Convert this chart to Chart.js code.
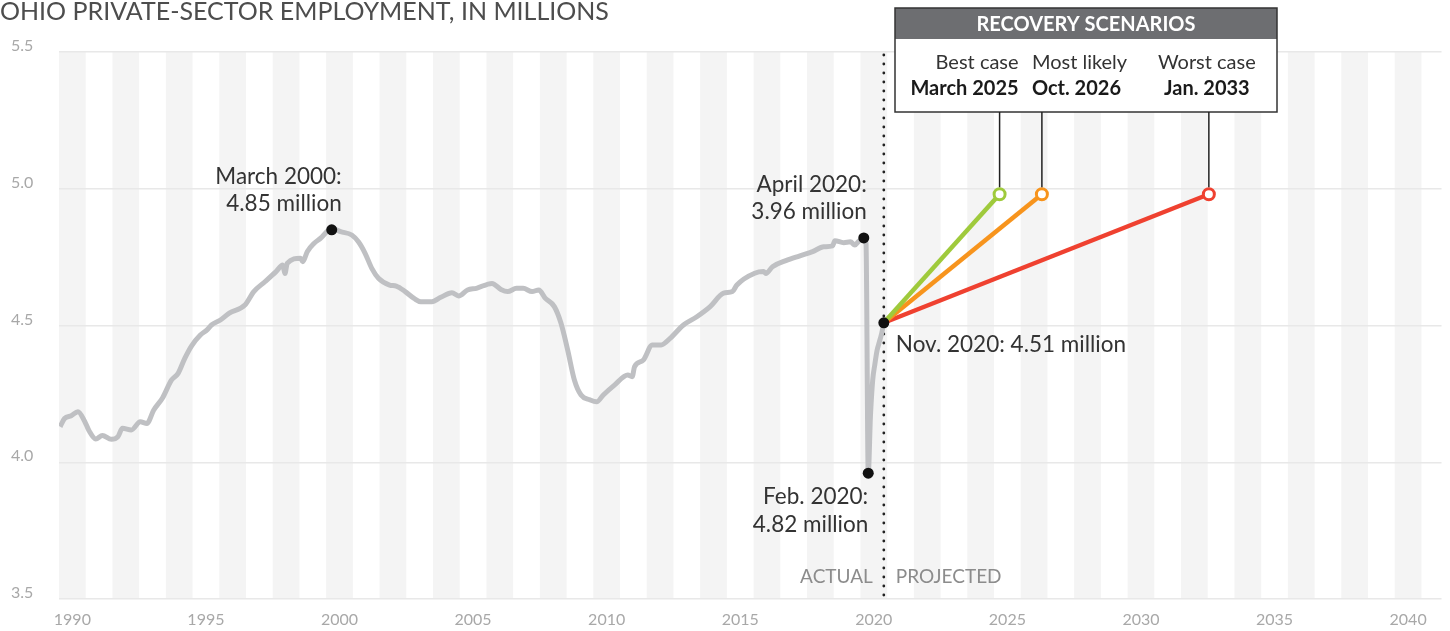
<!DOCTYPE html>
<html>
<head>
<meta charset="utf-8">
<script src="https://cdn.jsdelivr.net/npm/chart.js@4.4.1/dist/chart.umd.min.js"></script>
<style>
    html, body { margin: 0; padding: 0; background: #fff; }
    #wrap { width: 1450px; height: 631px; position: relative; }
</style>
</head>
<body>
<div id="wrap"><canvas id="jobs-chart"></canvas></div>
<script>
// Ohio private-sector employment, millions
const months = [
    '1990-01', '1990-03', '1990-06', '1990-09', '1990-12',
    '1991-02', '1991-05', '1991-08', '1991-12',
    '1992-03', '1992-05', '1992-09',
    '1993-01', '1993-04', '1993-07', '1993-11',
    '1994-03', '1994-06', '1994-09', '1994-12',
    '1995-04', '1995-07', '1995-09',
    '1996-01', '1996-05', '1996-12',
    '1997-04', '1997-09',
    '1998-02', '1998-05', '1998-06', '1998-07',
    '1999-01', '1999-02', '1999-04', '1999-07', '1999-10',
    '2000-03', '2000-07', '2000-12',
    '2001-03', '2001-06', '2001-09', '2001-12',
    '2002-05', '2002-08', '2002-12',
    '2003-04', '2003-07', '2003-12',
    '2004-04', '2004-09', '2004-12',
    '2005-04', '2005-08',
    '2006-03', '2006-07', '2006-10',
    '2007-02', '2007-05', '2007-09', '2007-12',
    '2008-03', '2008-07', '2008-10',
    '2009-01', '2009-04', '2009-07', '2009-11',
    '2010-02', '2010-05', '2010-10',
    '2011-04', '2011-06', '2011-07', '2011-11',
    '2012-03', '2012-07', '2012-11',
    '2013-05', '2013-11',
    '2014-05', '2014-11',
    '2015-03', '2015-05',
    '2016-01', '2016-05', '2016-06', '2016-09',
    '2017-03', '2017-09',
    '2018-03', '2018-08', '2018-12',
    '2019-01', '2019-05', '2019-08', '2019-10', '2019-12',
    '2020-01', '2020-02', '2020-03', '2020-04', '2020-05', '2020-06',
    '2020-07', '2020-08', '2020-09', '2020-10', '2020-11'
];
const jobs = [
    4.13, 4.16, 4.17, 4.185, 4.15,
    4.115, 4.085, 4.098, 4.084,
    4.094, 4.124, 4.118,
    4.148, 4.142, 4.19, 4.235,
    4.30, 4.325, 4.38, 4.425,
    4.465, 4.484, 4.502,
    4.52, 4.545, 4.575,
    4.624, 4.66,
    4.697, 4.721, 4.69, 4.727,
    4.746, 4.733, 4.77, 4.80, 4.819,
    4.855, 4.843, 4.831,
    4.806, 4.764, 4.709, 4.673,
    4.648, 4.644, 4.624,
    4.599, 4.587, 4.587,
    4.603, 4.62, 4.608,
    4.63, 4.636,
    4.654, 4.632, 4.624,
    4.636, 4.636, 4.624, 4.63,
    4.599, 4.569, 4.508,
    4.41, 4.301, 4.246, 4.228,
    4.221, 4.246, 4.282,
    4.319, 4.313, 4.349, 4.374,
    4.429, 4.429, 4.453,
    4.502, 4.532,
    4.569, 4.618,
    4.624, 4.648,
    4.691, 4.697, 4.69, 4.715,
    4.737, 4.754,
    4.77, 4.788, 4.791,
    4.81, 4.803, 4.806, 4.794, 4.81,
    4.812, 4.82, 4.80, 3.96, 4.17, 4.30,
    4.36, 4.41, 4.44, 4.47, 4.51
];

const calloutMonths = ['2000-03', '2020-02', '2020-04', '2020-11'];
const calloutValues = [4.85, 4.82, 3.96, 4.51];
const calloutText = [
    ['March 2000:', '4.85 million'],
    ['April 2020:', '3.96 million'],
    ['Feb. 2020:', '4.82 million'],
    ['Nov. 2020: 4.51 million']
];

const scenarioStart = '2020-11';
const scenarioStartLevel = 4.51;
const scenarioNames = ['Best case', 'Most likely', 'Worst case'];
const scenarioDates = ['March 2025', 'Oct. 2026', 'Jan. 2033'];
const scenarioMonths = ['2025-03', '2026-10', '2033-01'];
const scenarioLevels = [4.98, 4.98, 4.98];
const scenarioColors = ['#9fca3c', '#f7941d', '#ef4130'];

const yTicks = [3.5, 4.0, 4.5, 5.0, 5.5];
const xTickYears = [1990, 1995, 2000, 2005, 2010, 2015, 2020, 2025, 2030, 2035, 2040];

const FONT = 'Lato, "Open Sans", sans-serif';

// mid-month position on a decimal-year axis
function toYear(m) {
    const [y, mo] = m.split('-').map(Number);
    return y + (mo - 1) / 12 + 1 / 24;
}

const seriesPoints = months.map((m, i) => ({ x: toYear(m), y: jobs[i] }));
const calloutPoints = calloutMonths.map((m, i) => ({ x: toYear(m), y: calloutValues[i] }));

// label placement relative to each callout dot
const calloutPlacement = [
    { align: 'right', dx: 10, dy: [-53, -26] },
    { align: 'right', dx: 3, dy: [-53, -26] },
    { align: 'right', dx: 0, dy: [24, 52] },
    { align: 'left', dx: 12, dy: [22] }
];

const scenarioSets = scenarioMonths.map((m, i) => ({
    type: 'line',
    data: [
        { x: toYear(scenarioStart), y: scenarioStartLevel },
        { x: toYear(m), y: scenarioLevels[i] }
    ],
    borderColor: scenarioColors[i],
    borderWidth: 4.5,
    pointRadius: [0, 5.5],
    pointBorderWidth: 3,
    pointBackgroundColor: '#fff',
    pointBorderColor: scenarioColors[i],
    order: 2
}));

const overlay = {
    id: 'overlay',
    beforeDraw(chart) {
        const { ctx, chartArea: a, scales: { x } } = chart;
        ctx.save();
        ctx.fillStyle = '#f4f4f4';
        for (let yr = 1990; yr < x.max; yr += 2) {
            const l = x.getPixelForValue(yr);
            const r = Math.min(x.getPixelForValue(yr + 1), a.right);
            ctx.fillRect(l, a.top, r - l, a.bottom - a.top);
        }
        ctx.restore();
    },
    beforeDatasetsDraw(chart) {
        const { ctx, chartArea: a, scales: { x } } = chart;
        const px = x.getPixelForValue(toYear(scenarioStart));
        ctx.save();
        ctx.strokeStyle = '#222';
        ctx.lineWidth = 2.8;
        ctx.lineCap = 'round';
        ctx.setLineDash([0, 9]);
        ctx.beginPath();
        ctx.moveTo(px, a.top + 3);
        ctx.lineTo(px, a.bottom);
        ctx.stroke();
        ctx.setLineDash([]);

        ctx.font = '19px ' + FONT;
        ctx.fillStyle = '#8c8c8c';
        ctx.textBaseline = 'middle';
        ctx.textAlign = 'right';
        ctx.fillText('ACTUAL', px - 11, 577);
        ctx.textAlign = 'left';
        ctx.fillText('PROJECTED', px + 12, 577);
        ctx.restore();
    },
    afterDraw(chart) {
        const { ctx, scales: { x, y } } = chart;
        ctx.save();

        // title
        ctx.font = '25px ' + FONT;
        ctx.fillStyle = '#4d4d4d';
        ctx.textAlign = 'left';
        ctx.textBaseline = 'alphabetic';
        ctx.fillText('OHIO PRIVATE-SECTOR EMPLOYMENT, IN MILLIONS', 0, 20);

        // axis labels
        ctx.font = '16px ' + FONT;
        ctx.fillStyle = '#a8a8a8';
        ctx.textBaseline = 'middle';
        yTicks.forEach(v => {
            ctx.textAlign = 'left';
            ctx.fillText(v.toFixed(1), 11, y.getPixelForValue(v) - 6);
        });
        ctx.textAlign = 'center';
        xTickYears.forEach(yr => {
            ctx.fillText(String(yr), x.getPixelForValue(yr + 0.5), 620);
        });

        // callouts
        ctx.font = '22.5px ' + FONT;
        ctx.fillStyle = '#333';
        calloutPoints.forEach((p, i) => {
            const pl = calloutPlacement[i];
            const px = x.getPixelForValue(p.x);
            const py = y.getPixelForValue(p.y);
            ctx.textAlign = pl.align;
            calloutText[i].forEach((t, k) => ctx.fillText(t, px + pl.dx, py + pl.dy[k]));
        });

        // scenario box
        const bx = 895, by = 8, bw = 382, bh = 104, hh = 31;
        ctx.fillStyle = '#fff';
        ctx.fillRect(bx, by, bw, bh);
        ctx.fillStyle = '#6d6e71';
        ctx.fillRect(bx, by, bw, hh);
        ctx.strokeStyle = '#333';
        ctx.lineWidth = 1.5;
        ctx.strokeRect(bx, by, bw, bh);
        ctx.fillStyle = '#fff';
        ctx.font = 'bold 20px ' + FONT;
        ctx.textAlign = 'center';
        ctx.fillText('RECOVERY SCENARIOS', bx + bw / 2, by + hh / 2 + 1);

        const textAligns = ['right', 'left', 'center'];
        const textDx = [19, -10, -2];
        scenarioMonths.forEach((m, i) => {
            const px = x.getPixelForValue(toYear(m));
            const py = y.getPixelForValue(scenarioLevels[i]);
            ctx.strokeStyle = '#222';
            ctx.lineWidth = 1.5;
            ctx.beginPath();
            ctx.moveTo(px, by + bh);
            ctx.lineTo(px, py - 7);
            ctx.stroke();

            ctx.textAlign = textAligns[i];
            ctx.fillStyle = '#333';
            ctx.font = '20px ' + FONT;
            ctx.fillText(scenarioNames[i], px + textDx[i], 63);
            ctx.fillStyle = '#1a1a1a';
            ctx.font = 'bold 20px ' + FONT;
            ctx.fillText(scenarioDates[i], px + textDx[i], 89);
        });
        ctx.restore();
    }
};

new Chart(document.getElementById('jobs-chart'), {
    type: 'line',
    data: {
        datasets: [
            {
                type: 'scatter',
                data: calloutPoints,
                pointRadius: 5.5,
                pointBackgroundColor: '#111',
                pointBorderWidth: 0,
                showLine: false,
                order: 0
            },
            ...scenarioSets,
            {
                type: 'line',
                data: seriesPoints,
                borderColor: '#bfc0c3',
                borderWidth: 5,
                pointRadius: 0,
                cubicInterpolationMode: 'monotone',
                borderJoinStyle: 'round',
                order: 3
            }
        ]
    },
    options: {
        responsive: true,
        maintainAspectRatio: false,
        animation: false,
        events: [],
        layout: {
            padding: { top: 52, right: 6, left: 0, bottom: 0 }
        },
        scales: {
            x: {
                type: 'linear',
                min: 1990,
                max: 2041.75,
                grid: { display: false },
                border: { display: false },
                ticks: { display: false },
                afterFit: s => { s.height = 32; }
            },
            y: {
                min: 3.5,
                max: 5.5,
                grid: { color: '#e8e8e8', lineWidth: 1.5, drawTicks: false },
                border: { display: false },
                ticks: { display: false, stepSize: 0.5 },
                afterFit: s => { s.width = 59; }
            }
        },
        plugins: {
            legend: { display: false },
            tooltip: { enabled: false }
        }
    },
    plugins: [overlay]
});
</script>
</body>
</html>
